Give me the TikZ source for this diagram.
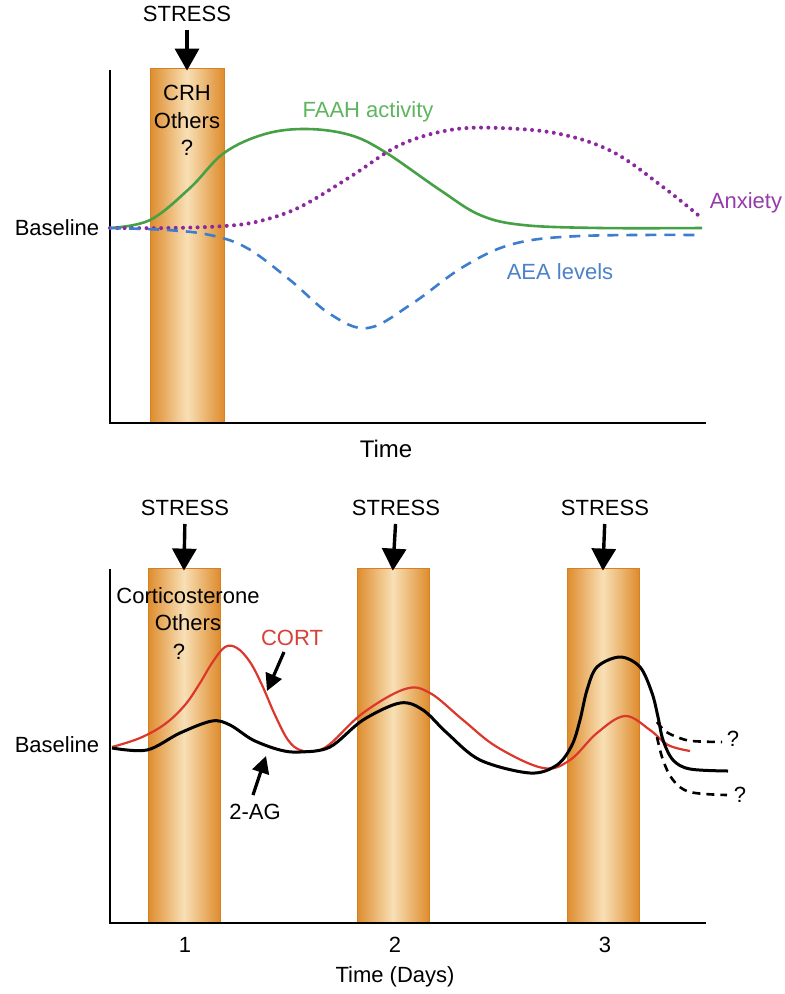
\documentclass[tikz,border=0pt]{standalone}
\usepackage{fontspec}
\setmainfont{Liberation Sans}
\usetikzlibrary{arrows.meta}
\definecolor{barE}{RGB}{222,140,45}
\definecolor{barC}{RGB}{248,224,182}
\definecolor{barD}{RGB}{214,128,36}
\definecolor{cgreen}{RGB}{70,160,70}
\definecolor{lgreen}{RGB}{95,180,95}
\definecolor{cpurple}{RGB}{140,40,160}
\definecolor{lpurple}{RGB}{150,60,170}
\definecolor{cblue}{RGB}{60,125,205}
\definecolor{lblue}{RGB}{75,130,200}
\definecolor{cred}{RGB}{220,55,45}
\definecolor{lred}{RGB}{215,65,55}
\tikzset{
  lbl/.style={font=\fontsize{22}{26}\selectfont, inner sep=0pt},
  biglbl/.style={font=\fontsize{24}{28}\selectfont, inner sep=0pt},
  stressbar/.style={draw=barD, line width=0.8pt, left color=barE, right color=barE, middle color=barC, inner sep=0pt, minimum width=#1, minimum height=355pt},
  axisline/.style={line width=2.6pt, black},
  stressarrow/.style={line width=3.4pt, -{Triangle[length=22pt,width=24pt]}, shorten <=8pt, shorten >=-3pt},
  smallarrow/.style={line width=3.2pt, -{Triangle[length=17pt,width=17pt]}},
}
\begin{document}
\begin{tikzpicture}[x=1pt,y=-1pt]
\useasboundingbox[fill=white] (0,0) rectangle (785,994);
% ---------- top panel ----------
\node[stressbar=74pt] (b0) at (187,245.5) {};
\node[lbl] (s0) at (187,14) {STRESS};
\draw[stressarrow] (s0.south) -- (b0.north);
\node[lbl] (crh) at (187,93) {CRH};
\node[lbl] (oth0) at (187,121) {Others};
\node[lbl] (q0) at (187,148) {?};
\coordinate (ya0) at (110,70);
\coordinate (o0) at (110,423);
\coordinate (xa0) at (706,423);
\draw[axisline, line join=miter] (ya0) -- (o0) -- (xa0);
\node[lbl] (bl0) at (57,228) {Baseline};
\node[biglbl] (t0) at (386,449) {Time};
% FAAH
\draw[cgreen, line width=2.6pt] plot[smooth, tension=0.6] coordinates {(110,228) (150,220) (190,188) (224,153) (265,134) (307,129) (350,135) (385,152) (440,190) (480,215) (523,225) (600,228) (702,228)};
% Anxiety dotted
\draw[cpurple, line width=4pt, line cap=round, dash pattern=on 0pt off 7.3pt] plot[smooth, tension=0.6] coordinates {(110,228) (170,228) (225,226) (260,221) (300,207) (350,177) (400,145) (450,130) (500,128) (560,134) (613,152) (663,187) (698,215)};
% AEA dashed
\draw[cblue, line width=2.6pt, dash pattern=on 11pt off 8pt] plot[smooth, tension=0.6] coordinates {(110,228) (167,230) (210,235) (247,248) (290,280) (330,314) (368,328) (413,303) (463,267) (513,244) (580,236) (700,235)};
\node[lbl, text=lgreen] (faah) at (368,112) {FAAH activity};
\node[lbl, text=lpurple] (anx) at (746,203) {Anxiety};
\node[lbl, text=lblue] (aea) at (560,272) {AEA levels};
% ---------- bottom panel ----------
\node[stressbar=72pt] (b1) at (184,745.5) {};
\node[stressbar=72pt] (b2) at (393,745.5) {};
\node[stressbar=72pt] (b3) at (603,745.5) {};
\node[lbl] (s1) at (185,508) {STRESS};
\node[lbl] (s2) at (396,508) {STRESS};
\node[lbl] (s3) at (605,508) {STRESS};
\draw[stressarrow] (s1.south) -- (b1.north);
\draw[stressarrow] (s2.south) -- (b2.north);
\draw[stressarrow] (s3.south) -- (b3.north);
\coordinate (ya1) at (110,569);
\coordinate (o1) at (110,923);
\coordinate (xa1) at (706,923);
\draw[axisline, line join=miter] (ya1) -- (o1) -- (xa1);
\node[lbl] (bl1) at (57,745) {Baseline};
\node[lbl] (n1) at (185,945) {1};
\node[lbl] (n2) at (395,945) {2};
\node[lbl] (n3) at (605,945) {3};
\node[lbl] (t1) at (395,977) {Time (Days)};
\node[lbl] (cort) at (188,596) {Corticosterone};
\node[lbl] (oth1) at (188,623) {Others};
\node[lbl] (q1) at (179,652) {?};
% CORT red curve
\draw[cred, line width=2.2pt] plot[smooth, tension=0.6] coordinates {(112,747) (140,738) (165,724) (185,705) (200,683) (212,663) (225,647) (237,648) (250,662) (262,685) (275,715) (288,740) (300,750) (315,751) (330,744) (363,713) (405,689) (430,693) (463,720) (497,747) (543,768) (570,760) (597,733) (625,716) (650,730) (668,745) (690,751)};
% 2-AG black curve
\draw[black, line width=3pt] plot[smooth, tension=0.55] coordinates {(112,748) (147,750) (180,733) (212,721) (230,725) (253,740) (280,750) (300,752) (330,747) (363,720) (400,703) (423,710) (447,733) (480,760) (530,773) (557,765) (572,745) (580,720) (587,690) (597,667) (620,657) (640,667) (652,693) (658,717) (663,740) (673,760) (690,769) (728,771)};
% dashed branches
\coordinate (bu0) at (657,722);
\coordinate (bd0) at (657,737);
\draw[black, line width=2.6pt, dash pattern=on 8pt off 6pt] plot[smooth, tension=0.6] coordinates {(bu0) (665,731) (677,737) (692,741) (722,742)};
\draw[black, line width=2.6pt, dash pattern=on 8pt off 6pt] plot[smooth, tension=0.6] coordinates {(bd0) (663,760) (673,780) (690,792) (727,795)};
\node[lbl] (qa) at (733,739) {?};
\node[lbl] (qb) at (740,795) {?};
\node[lbl, text=lred] (cortl) at (292,638) {CORT};
\node[lbl] (ag) at (255,812) {2-AG};
\coordinate (cortt) at (267,691);
\coordinate (agt) at (266,756);
\draw[smallarrow] (cortl.south) ++(-8,6) coordinate (cs) (cs) -- (cortt);
\draw[smallarrow] (ag.north) ++(-2,-9) coordinate (as) (as) -- (agt);
\end{tikzpicture}
\end{document}
